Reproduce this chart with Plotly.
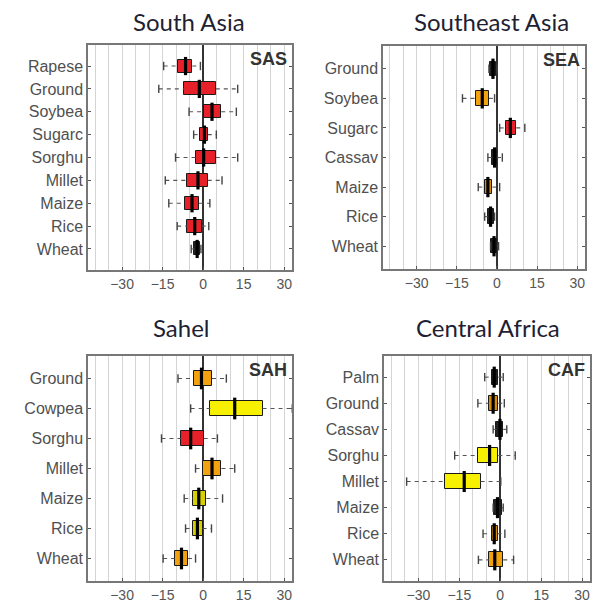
import plotly.graph_objects as go

# ---------------- data ----------------
# South Asia (SAS)
sas_cats = ["Rapese", "Ground", "Soybea", "Sugarc", "Sorghu", "Millet", "Maize", "Rice", "Wheat"]
sas_low  = [-14.6, -16.4, -5.2, -3.5, -10.2, -14.0, -12.7, -9.6, -4.4]
sas_q1   = [-9.4, -6.9, 0.2, -1.0, -2.8, -5.9, -6.8, -5.9, -3.2]
sas_med  = [-6.5, -1.4, 3.3, 0.5, 0.2, -1.9, -4.1, -3.1, -2.2]
sas_q3   = [-4.0, 4.7, 6.7, 1.7, 4.7, 1.7, -1.5, -0.5, -1.2]
sas_high = [-1.0, 12.8, 12.3, 4.9, 12.8, 7.0, 2.5, 2.1, -0.8]
sas_cls  = ["red", "red", "red", "red", "red", "red", "red", "red", "dark"]

# Southeast Asia (SEA)
sea_cats = ["Ground", "Soybea", "Sugarc", "Cassav", "Maize", "Rice", "Wheat"]
sea_low  = [-3.0, -12.9, 1.0, -3.4, -7.0, -4.6, -2.4]
sea_q1   = [-2.7, -8.0, 3.5, -1.7, -4.6, -3.4, -2.1]
sea_med  = [-1.5, -5.5, 5.0, -0.9, -3.4, -2.4, -1.1]
sea_q3   = [-0.2, -3.0, 7.2, 0.0, -1.7, -1.2, 0.0]
sea_high = [0.1, -0.9, 10.4, 2.0, 1.0, -0.9, 0.6]
sea_cls  = ["dark", "orange", "red", "dark", "dorange", "dark", "dark"]

# Sahel (SAH)
sah_cats = ["Ground", "Cowpea", "Sorghu", "Millet", "Maize", "Rice", "Wheat"]
sah_low  = [-9.3, -4.6, -15.4, -2.8, -7.0, -6.5, -14.8]
sah_q1   = [-3.5, 2.7, -8.0, 0.0, -3.7, -3.7, -10.5]
sah_med  = [-0.6, 11.7, -4.6, 3.3, -1.6, -2.1, -8.0]
sah_q3   = [3.3, 22.0, 0.2, 6.8, 1.2, -0.2, -5.6]
sah_high = [8.6, 33.0, 5.3, 11.7, 7.2, 3.1, -2.8]
sah_cls  = ["orange", "yellow", "red", "orange", "dyellow", "dyellow", "orange"]

# Central Africa (CAF)
caf_cats = ["Palm", "Ground", "Cassav", "Sorghu", "Millet", "Maize", "Rice", "Wheat"]
caf_low  = [-5.7, -8.2, -2.6, -16.7, -34.3, -2.6, -6.3, -8.0]
caf_q1   = [-3.2, -4.2, -1.4, -8.2, -20.4, -2.2, -3.2, -4.2]
caf_med  = [-2.2, -2.6, -0.1, -3.9, -13.2, -1.0, -2.2, -2.0]
caf_q3   = [-0.7, -0.7, 1.1, -0.7, -7.2, 0.5, -1.0, 1.1]
caf_high = [1.1, 1.5, 2.4, 5.5, 0.2, 1.1, 1.7, 4.9]
caf_cls  = ["dark", "dorange", "dark", "yellow", "yellow", "dark", "dorange", "orange"]

titles = ["South Asia", "Southeast Asia", "Sahel", "Central Africa"]
codes = ["SAS", "SEA", "SAH", "CAF"]
x_ticks = [-30, -15, 0, 15, 30]
x_tick_text = ["\u221230", "\u221215", "0", "15", "30"]

# ---------------- styles ----------------
COLORS = {"red": "#E8202A", "orange": "#F2A20F", "dorange": "#D98C00",
          "yellow": "#F7F000", "dyellow": "#D8CF00", "dark": "#222222"}
OFF = 8                      # default page body margin
W, H = 600 - OFF, 603 - OFF
XR = [-42.6, 32.9]


def fx(X):
    return (X - OFF) / W


def fy(Y):
    return 1 - (Y - OFF) / H


panels = [
    dict(cats=sas_cats, low=sas_low, q1=sas_q1, med=sas_med, q3=sas_q3, high=sas_high, cls=sas_cls,
         px=(88, 292), py=(45, 270), off=0.92, box=13),
    dict(cats=sea_cats, low=sea_low, q1=sea_q1, med=sea_med, q3=sea_q3, high=sea_high, cls=sea_cls,
         px=(383, 585), py=(46, 269), off=0.77, box=14.5),
    dict(cats=sah_cats, low=sah_low, q1=sah_q1, med=sah_med, q3=sah_q3, high=sah_high, cls=sah_cls,
         px=(88, 292), py=(356, 581), off=0.75, box=15.5),
    dict(cats=caf_cats, low=caf_low, q1=caf_q1, med=caf_med, q3=caf_q3, high=caf_high, cls=caf_cls,
         px=(384, 590), py=(356, 581), off=0.81, box=15),
]
title_pos = [(189, 21), (491, 21), (181, 327), (488, 327)]

fig = go.Figure()
layout = dict(width=W, height=H, margin=dict(l=0, r=0, t=0, b=0),
              paper_bgcolor="white", plot_bgcolor="white", showlegend=False,
              bargap=0, annotations=[])

for i, p in enumerate(panels):
    n = len(p["cats"])
    sfx = "" if i == 0 else str(i + 1)
    xa, ya = "x" + sfx, "y" + sfx
    plot_h = p["py"][1] - p["py"][0]
    spacing = plot_h / (n - 1 + 2 * p["off"])
    bw = p["box"] / spacing

    # whiskers (dashed)
    wx, wy = [], []
    for c, lo, a, b, hi in zip(p["cats"], p["low"], p["q1"], p["q3"], p["high"]):
        wx += [lo, a, None, b, hi, None]
        wy += [c, c, None, c, c, None]
    fig.add_trace(go.Scatter(x=wx, y=wy, mode="lines", xaxis=xa, yaxis=ya,
                             line=dict(color="#555555", width=1.1, dash="4px,4px"),
                             hoverinfo="skip"))
    # whisker caps
    fig.add_trace(go.Scatter(x=p["low"] + p["high"], y=p["cats"] + p["cats"], mode="markers",
                             xaxis=xa, yaxis=ya,
                             marker=dict(symbol="line-ns", size=6,
                                         line=dict(color="#444444", width=1.4)),
                             hoverinfo="skip"))
    # boxes
    fig.add_trace(go.Bar(y=p["cats"], x=[b - a for a, b in zip(p["q1"], p["q3"])], base=p["q1"],
                         orientation="h", width=bw, xaxis=xa, yaxis=ya,
                         marker=dict(color=[COLORS[k] for k in p["cls"]],
                                     line=dict(color="#1a1a1a", width=1))))
    # medians
    fig.add_trace(go.Scatter(x=p["med"], y=p["cats"], mode="markers", xaxis=xa, yaxis=ya,
                             marker=dict(symbol="line-ns", size=p["box"],
                                         line=dict(color="black", width=3.2)),
                             hoverinfo="skip"))

    layout["xaxis" + sfx] = dict(
        domain=[fx(p["px"][0]), fx(p["px"][1])], anchor=ya, range=XR,
        tickvals=x_ticks, ticktext=x_tick_text, ticks="inside", ticklen=3,
        tickcolor="#555555", tickfont=dict(family="Liberation Sans, Arial", size=14, color="#555555"),
        showgrid=True, gridcolor="#D4D4D4", gridwidth=1,
        minor=dict(dtick=5, tick0=0, showgrid=True, gridcolor="#D4D4D4", gridwidth=1),
        zeroline=True, zerolinecolor="#333333", zerolinewidth=1.6,
        showline=True, mirror=True, linecolor="#777777", linewidth=1.5, fixedrange=True)
    layout["yaxis" + sfx] = dict(
        domain=[fy(p["py"][1]), fy(p["py"][0])], anchor=xa,
        type="category", categoryorder="array", categoryarray=p["cats"],
        range=[n - 1 + p["off"], -p["off"]],
        ticks="inside", ticklen=3, tickcolor="#555555",
        tickfont=dict(family="Liberation Sans, Arial", size=16, color="#505050"),
        showgrid=False, zeroline=False,
        showline=True, mirror="ticks", linecolor="#777777", linewidth=1.5, fixedrange=True)

    layout["annotations"].append(dict(
        text="<b>%s</b>" % codes[i], xref=xa + " domain", yref=ya + " domain",
        x=0.985, y=0.99, xanchor="right", yanchor="top", showarrow=False,
        font=dict(family="Liberation Sans, Arial", size=18, color="#333333")))
    tx, ty = title_pos[i]
    layout["annotations"].append(dict(
        text=titles[i], xref="paper", yref="paper", x=fx(tx), y=fy(ty),
        xanchor="center", yanchor="middle", showarrow=False,
        font=dict(family="Lato, Open Sans, sans-serif", size=24, color="#1F1F33")))

fig.update_layout(**layout)
fig.write_html("out.html")
